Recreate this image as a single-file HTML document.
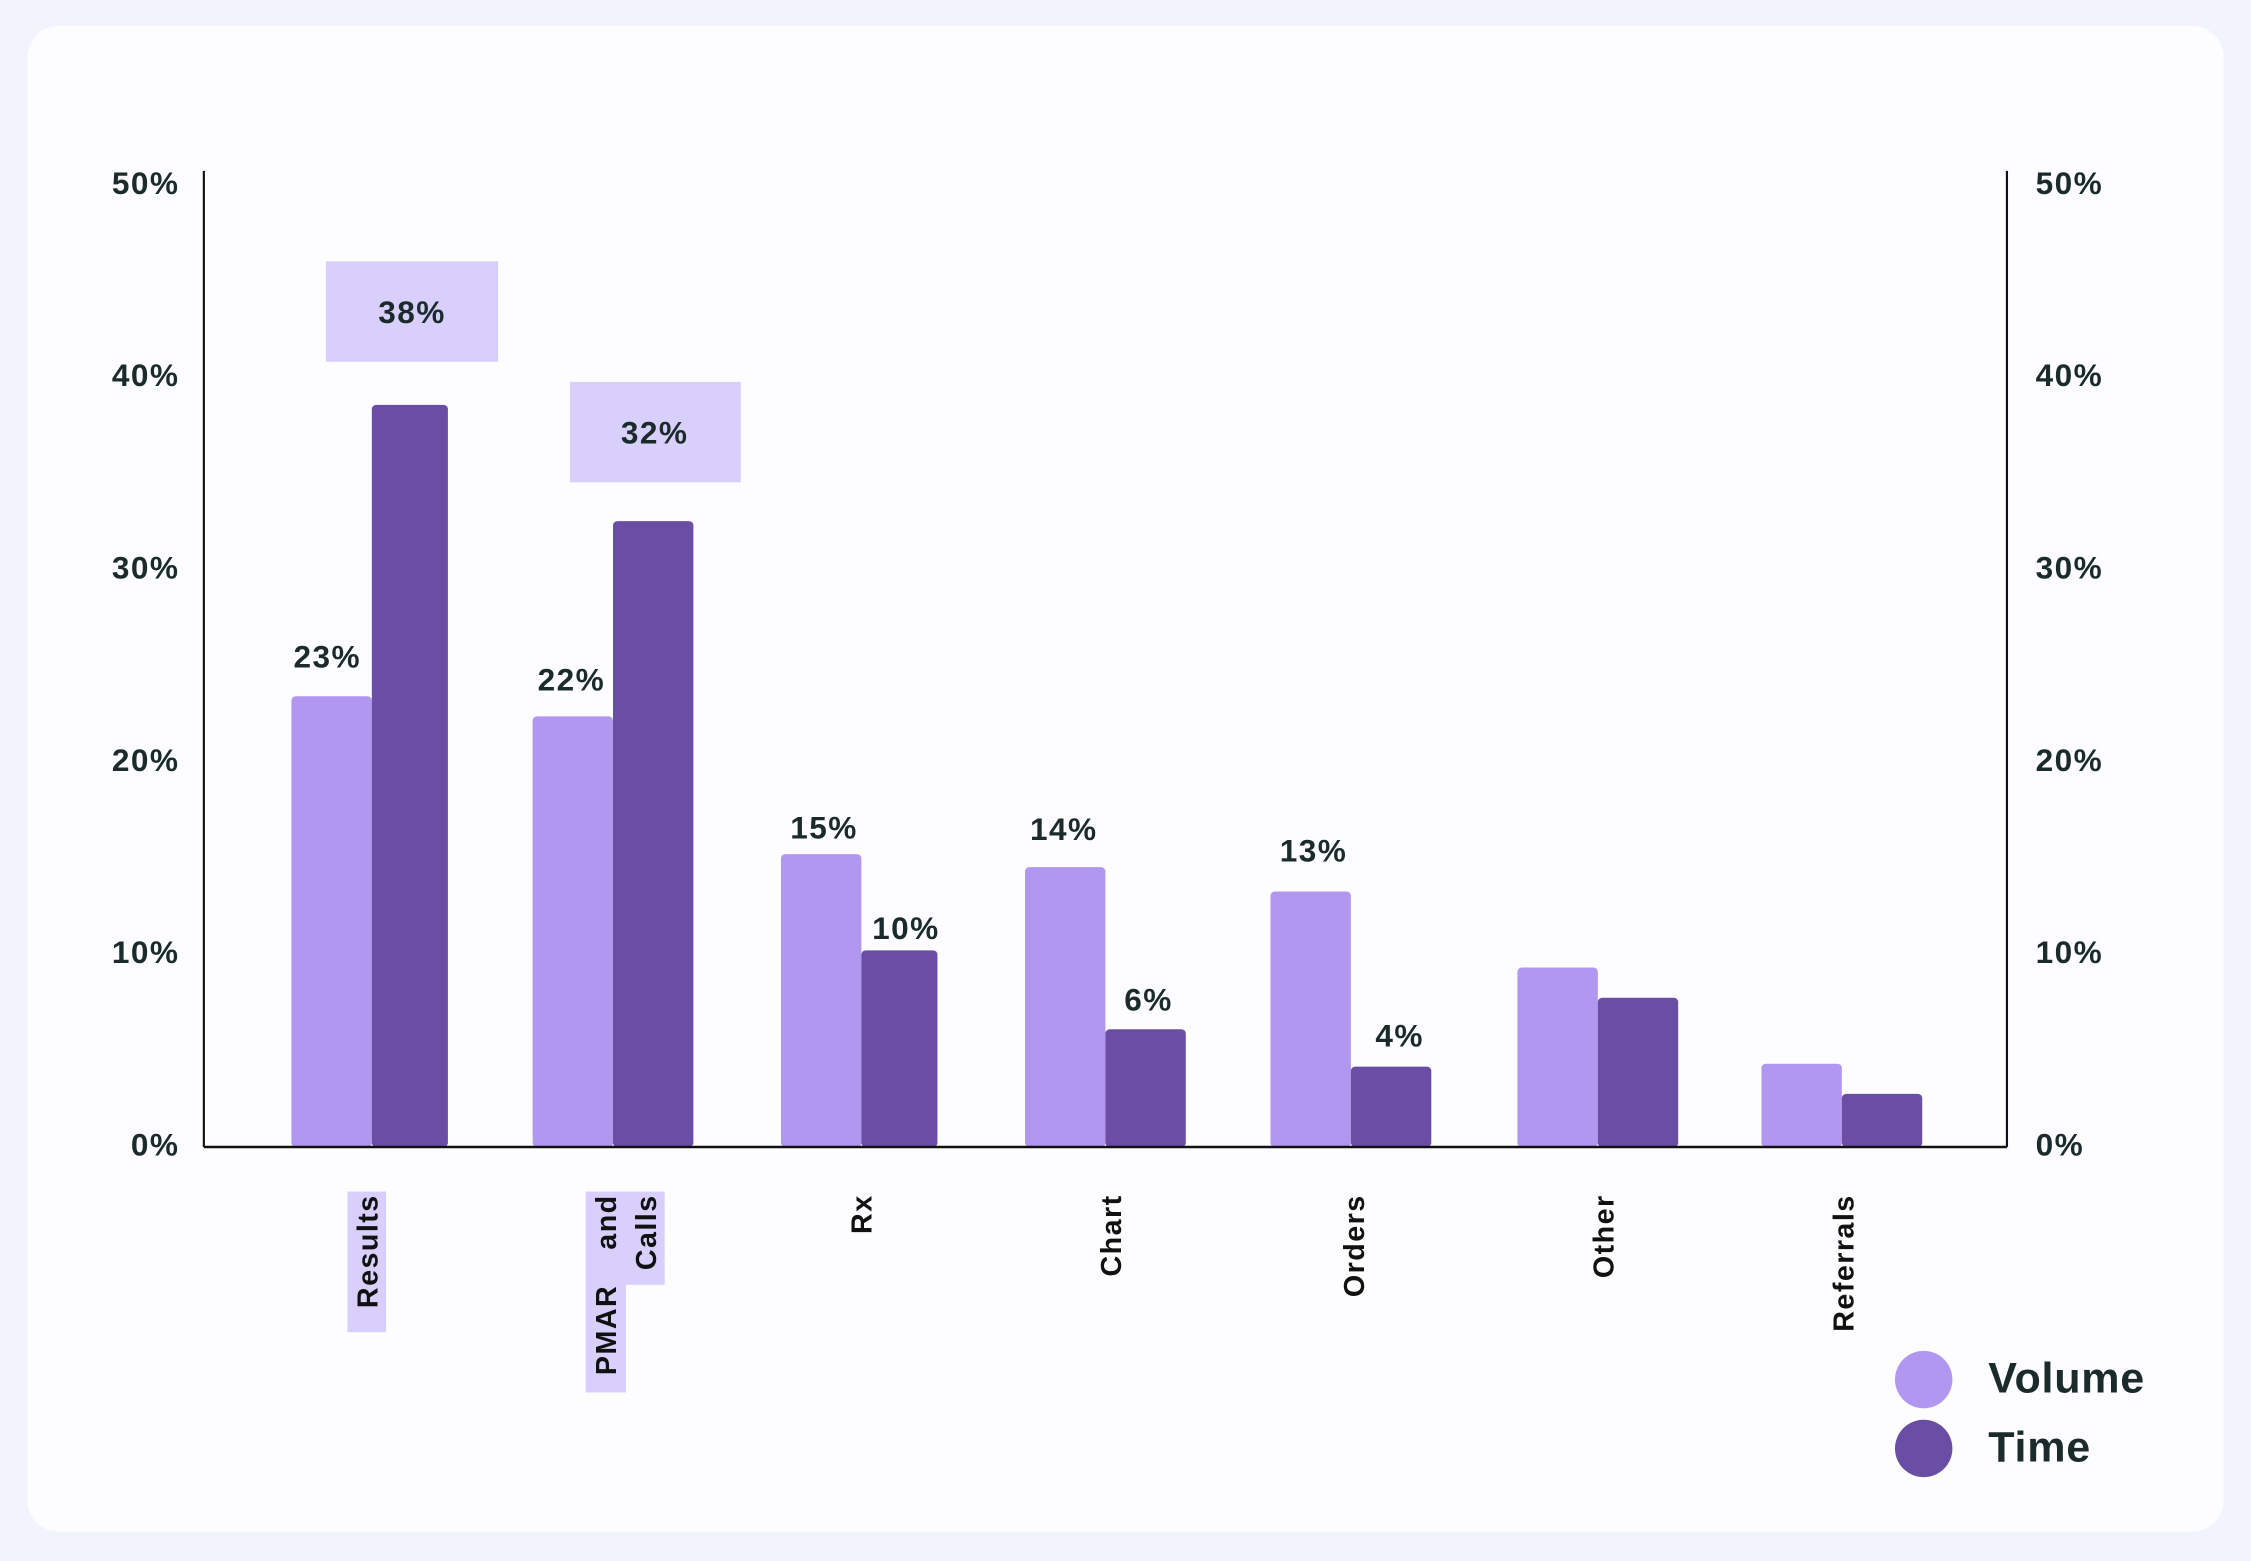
<!DOCTYPE html>
<html><head><style>html,body{margin:0;padding:0;background:#f2f4fd}svg{display:block}</style></head><body>
<svg width="2251" height="1561" viewBox="0 0 1568 1087.4" preserveAspectRatio="none" xmlns="http://www.w3.org/2000/svg" font-family="Liberation Sans, sans-serif">
<rect x="0" y="0" width="1568" height="1087.4" fill="#f2f4fd"/>
<rect x="19" y="18" width="1530" height="1049" rx="22" fill="#fdfdff"/>
<g fill="#1b2b2b" font-size="22" font-weight="600" letter-spacing="1">
<g text-anchor="end">
<text x="125" y="135">50%</text><text x="125" y="269">40%</text><text x="125" y="403">30%</text><text x="125" y="537">20%</text><text x="125" y="671">10%</text><text x="125" y="805">0%</text></g>
<g text-anchor="start">
<text x="1418" y="135">50%</text><text x="1418" y="269">40%</text><text x="1418" y="403">30%</text><text x="1418" y="537">20%</text><text x="1418" y="671">10%</text><text x="1418" y="805">0%</text></g>
</g>
<rect x="227" y="182" width="120" height="70" fill="#d8cffc"/>
<rect x="397" y="266" width="119" height="70" fill="#d8cffc"/>
<g fill="#b197f0">
<rect x="203" y="485" width="56" height="314" rx="3"/>
<rect x="371" y="499" width="56" height="300" rx="3"/>
<rect x="544" y="595" width="56" height="204" rx="3"/>
<rect x="714" y="604" width="56" height="195" rx="3"/>
<rect x="885" y="621" width="56" height="178" rx="3"/>
<rect x="1057" y="674" width="56" height="125" rx="3"/>
<rect x="1227" y="741" width="56" height="58" rx="3"/>
</g>
<g fill="#6a4ea6">
<rect x="259" y="282" width="53" height="517" rx="3"/>
<rect x="427" y="363" width="56" height="436" rx="3"/>
<rect x="600" y="662" width="53" height="137" rx="3"/>
<rect x="770" y="717" width="56" height="82" rx="3"/>
<rect x="941" y="743" width="56" height="56" rx="3"/>
<rect x="1113" y="695" width="56" height="104" rx="3"/>
<rect x="1283" y="762" width="56" height="37" rx="3"/>
</g>
<line x1="142" y1="119" x2="142" y2="799" stroke="#111" stroke-width="1.5"/>
<line x1="1398" y1="119" x2="1398" y2="799" stroke="#111" stroke-width="1.5"/>
<line x1="142" y1="799" x2="1398" y2="799" stroke="#111" stroke-width="1.8"/>
<g fill="#1b2b2b" font-size="22" font-weight="600" text-anchor="middle" letter-spacing="1">
<text x="287" y="225">38%</text><text x="456" y="309">32%</text>
<text x="228" y="465">23%</text><text x="398" y="481">22%</text>
<text x="574" y="584">15%</text><text x="631" y="654">10%</text>
<text x="741" y="585">14%</text><text x="800" y="704">6%</text>
<text x="915" y="600">13%</text><text x="975" y="729">4%</text>
</g>
<rect x="242" y="830" width="27" height="98" fill="#d8cffc"/>
<rect x="408" y="830" width="28" height="140" fill="#d8cffc"/>
<rect x="436" y="830" width="27" height="65" fill="#d8cffc"/>
<g fill="#111" font-size="20" font-weight="600" text-anchor="end" letter-spacing="1">
<text transform="translate(263,832) rotate(-90)">Results</text>
<text transform="translate(429,832) rotate(-90)">and</text>
<text transform="translate(429,895) rotate(-90)">PMAR</text>
<text transform="translate(457,832) rotate(-90)">Calls</text>
<text transform="translate(607,832) rotate(-90)">Rx</text>
<text transform="translate(781,832) rotate(-90)">Chart</text>
<text transform="translate(950,832) rotate(-90)">Orders</text>
<text transform="translate(1124,832) rotate(-90)">Other</text>
<text transform="translate(1291,832) rotate(-90)">Referrals</text>
</g>
<circle cx="1340" cy="961" r="20" fill="#b197f0"/>
<circle cx="1340" cy="1009" r="20" fill="#6a4ea6"/>
<g fill="#1b2b2b" font-size="30" font-weight="600">
<text x="1385" y="970" letter-spacing="0.5">Volume</text><text x="1385" y="1018" letter-spacing="0.5">Time</text>
</g>
</svg>
</body></html>
